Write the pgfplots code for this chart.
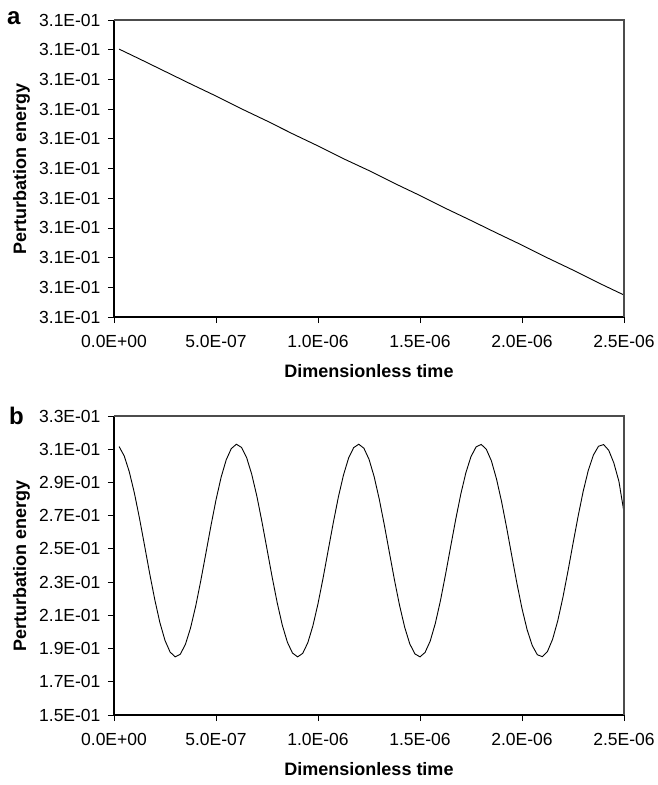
\documentclass[border=0pt]{standalone}
\usepackage{pgfplots}
\pgfplotsset{compat=1.18}
\usepackage{fontspec}
\setmainfont{Liberation Sans}

% time in units of 1E-06
\pgfplotstableread{
t E
0.025 9.02
0.125 8.69
0.250 8.27
0.375 7.85
0.500 7.44
0.625 7.01
0.750 6.60
0.875 6.17
1.000 5.76
1.125 5.33
1.250 4.93
1.375 4.50
1.500 4.09
1.625 3.66
1.750 3.25
1.875 2.83
2.000 2.42
2.125 1.99
2.250 1.58
2.375 1.15
2.500 0.74
}\decay

\pgfplotstableread{
t E
0.025 0.3116
0.050 0.3060
0.075 0.2964
0.100 0.2836
0.125 0.2684
0.150 0.2519
0.175 0.2351
0.200 0.2194
0.225 0.2056
0.250 0.1949
0.275 0.1879
0.300 0.1850
0.325 0.1866
0.350 0.1925
0.375 0.2023
0.400 0.2153
0.425 0.2306
0.450 0.2471
0.475 0.2638
0.500 0.2795
0.525 0.2931
0.550 0.3036
0.575 0.3104
0.600 0.3130
0.625 0.3111
0.650 0.3050
0.675 0.2950
0.700 0.2819
0.725 0.2665
0.750 0.2499
0.775 0.2332
0.800 0.2176
0.825 0.2041
0.850 0.1938
0.875 0.1873
0.900 0.1850
0.925 0.1871
0.950 0.1935
0.975 0.2037
1.000 0.2170
1.025 0.2325
1.050 0.2492
1.075 0.2658
1.100 0.2813
1.125 0.2945
1.150 0.3047
1.175 0.3110
1.200 0.3130
1.225 0.3106
1.250 0.3040
1.275 0.2936
1.300 0.2801
1.325 0.2645
1.350 0.2478
1.375 0.2312
1.400 0.2159
1.425 0.2028
1.450 0.1928
1.475 0.1868
1.500 0.1850
1.525 0.1877
1.550 0.1945
1.575 0.2051
1.600 0.2187
1.625 0.2345
1.650 0.2512
1.675 0.2677
1.700 0.2830
1.725 0.2959
1.750 0.3056
1.775 0.3114
1.800 0.3129
1.825 0.3100
1.850 0.3030
1.875 0.2921
1.900 0.2784
1.925 0.2626
1.950 0.2458
1.975 0.2293
2.000 0.2141
2.025 0.2014
2.050 0.1919
2.075 0.1863
2.100 0.1851
2.125 0.1883
2.150 0.1956
2.175 0.2066
2.200 0.2205
2.225 0.2364
2.250 0.2532
2.275 0.2696
2.300 0.2847
2.325 0.2973
2.350 0.3065
2.375 0.3118
2.400 0.3128
2.425 0.3094
2.450 0.3018
2.475 0.2907
2.500 0.2720
}\osc

\pgfplotsset{
  panel/.style={
    scale only axis, width=510pt,
    axis x line*=bottom, axis y line*=left,
    axis line style={line width=1.2pt, black, -},
    tick align=outside, major tick length=6pt,
    tick style={black, line width=0.8pt},
    xmin=0, xmax=2.5, xtick={0,0.5,1,1.5,2,2.5},
    xticklabels={0.0E+00,5.0E-07,1.0E-06,1.5E-06,2.0E-06,2.5E-06},
    ticklabel style={font=\fontsize{17.5}{20}\selectfont},
    xticklabel style={yshift=-9pt},
    yticklabel style={xshift=-4pt},
    xlabel={Dimensionless time}, ylabel={Perturbation energy},
    label style={font=\fontsize{18}{21}\selectfont\bfseries},
    xlabel style={at={(axis description cs:0.5,0)}, anchor=base, yshift=-60pt},
    ylabel style={at={(axis description cs:-0.1725,0.5)}, anchor=base},
    after end axis/.code={\draw[black!70, line width=1.2pt] (rel axis cs:0,1) -- (rel axis cs:1,1) -- (rel axis cs:1,0);},
  }
}

\begin{document}
\begin{tikzpicture}
\useasboundingbox (0pt,0pt) rectangle (657pt,-785pt);
\node[anchor=base west, inner sep=0pt, font=\fontsize{24}{28}\selectfont\bfseries] at (7pt,-24pt) {a};
\node[anchor=base west, inner sep=0pt, font=\fontsize{24}{28}\selectfont\bfseries] at (9pt,-424pt) {b};

\begin{axis}[panel, at={(114pt,-317pt)}, anchor=south west, height=297pt,
  ymin=0, ymax=10, ytick={0,1,2,3,4,5,6,7,8,9,10},
  yticklabels={3.1E-01,3.1E-01,3.1E-01,3.1E-01,3.1E-01,3.1E-01,3.1E-01,3.1E-01,3.1E-01,3.1E-01,3.1E-01}]
\addplot[black, line width=0.9pt] table[x=t, y=E] {\decay};
\end{axis}

\begin{axis}[panel, at={(114pt,-715pt)}, anchor=south west, height=299pt,
  ymin=0.15, ymax=0.33, ytick={0.15,0.17,0.19,0.21,0.23,0.25,0.27,0.29,0.31,0.33},
  yticklabels={1.5E-01,1.7E-01,1.9E-01,2.1E-01,2.3E-01,2.5E-01,2.7E-01,2.9E-01,3.1E-01,3.3E-01}]
\addplot[black, line width=0.9pt] table[x=t, y=E] {\osc};
\end{axis}
\end{tikzpicture}
\end{document}
